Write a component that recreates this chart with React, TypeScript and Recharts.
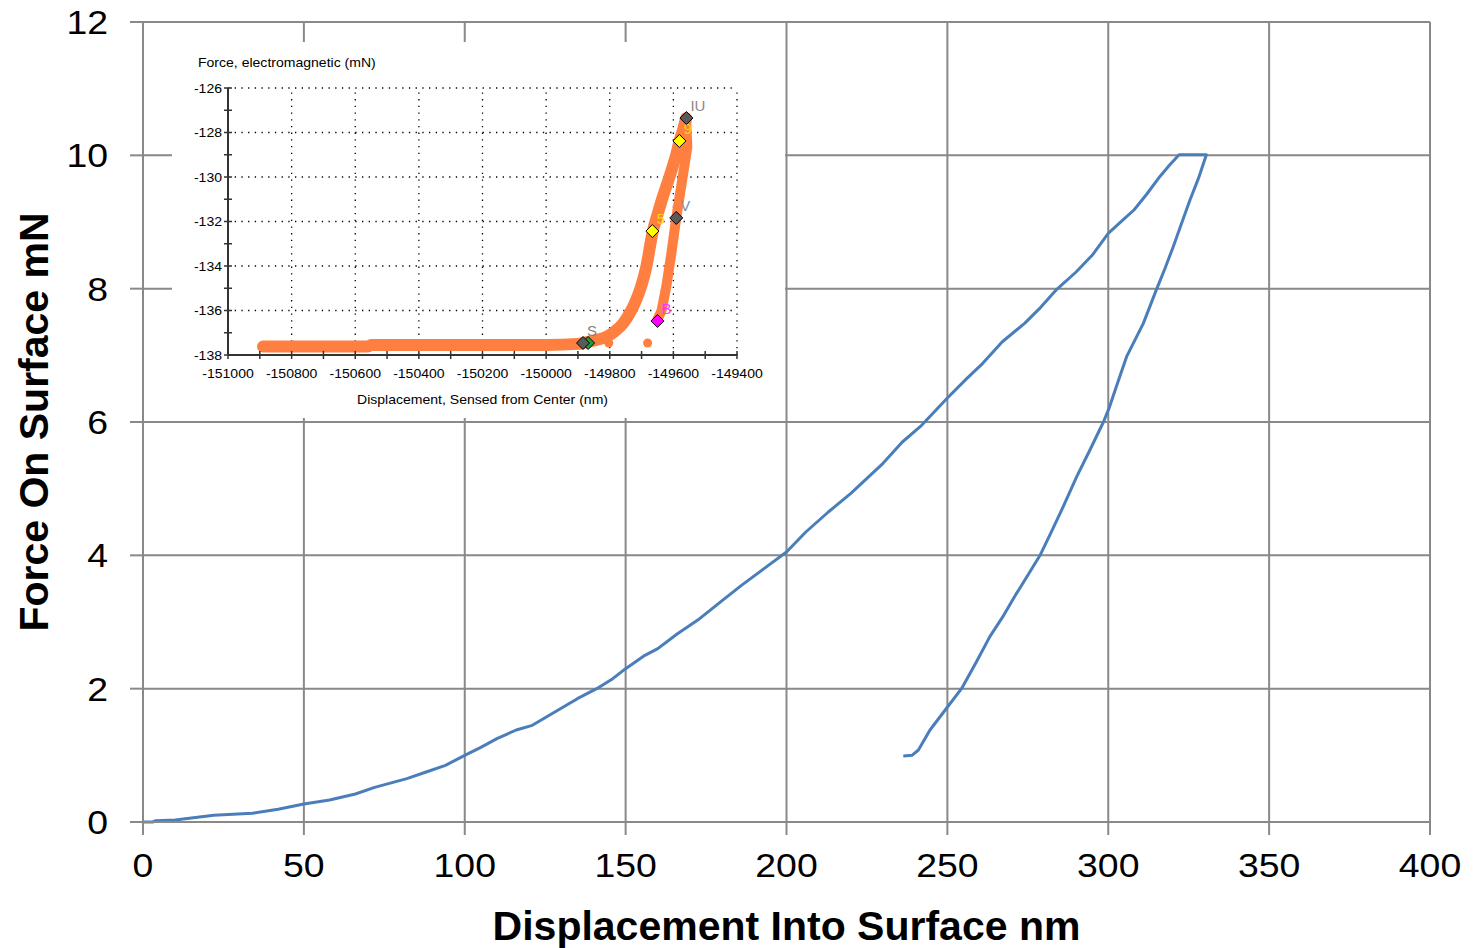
import React from 'react';
import {
  ComposedChart,
  Line,
  Scatter,
  XAxis,
  YAxis,
  CartesianGrid,
  ReferenceLine,
  Label,
} from 'recharts';

// ── Main curve: force vs displacement (loading, hold, unloading) ──
const loadX = [0, 3, 4, 10, 22, 34, 42, 50, 58, 66, 72, 82, 88, 94, 100, 105, 110, 116, 121, 128, 135, 141, 146, 150, 156, 160, 166, 173, 180, 186, 193, 200, 206, 213, 220, 226, 230, 236, 242, 250, 256, 261, 267, 274, 279, 284, 290, 295, 300, 305, 308, 312, 316, 319, 322];
const loadF = [0, 0, 0.02, 0.03, 0.1, 0.13, 0.19, 0.27, 0.33, 0.42, 0.52, 0.65, 0.75, 0.85, 1.0, 1.12, 1.25, 1.38, 1.45, 1.65, 1.85, 2.0, 2.15, 2.3, 2.5, 2.6, 2.82, 3.05, 3.32, 3.55, 3.8, 4.05, 4.35, 4.65, 4.93, 5.2, 5.38, 5.7, 5.95, 6.36, 6.65, 6.88, 7.2, 7.48, 7.72, 7.99, 8.25, 8.5, 8.83, 9.05, 9.18, 9.42, 9.68, 9.85, 10.01];
const holdX = [330.5];
const holdF = [10.01];
const unloadX = [328, 325.4, 322.8, 320.2, 317.6, 315, 310.9, 305.7, 303, 300.2, 298.5, 294.3, 290.2, 286, 282.5, 278.8, 275, 271.5, 267.5, 263.2, 259, 254.4, 249.8, 244.6, 241, 239, 236.3];
const unloadF = [9.65, 9.33, 8.98, 8.63, 8.3, 7.99, 7.48, 6.98, 6.6, 6.2, 6.0, 5.58, 5.18, 4.73, 4.37, 4.0, 3.7, 3.43, 3.1, 2.78, 2.4, 2.0, 1.71, 1.38, 1.08, 1.0, 0.99];

const mainXTicks = [0, 50, 100, 150, 200, 250, 300, 350, 400];
const mainYTicks = [0, 2, 4, 6, 8, 10, 12];

// ── Inset: electromagnetic force vs sensed displacement ──
const insetLoadX = [-150890, -150560, -150550, -150000, -149900, -149884, -149850, -149810, -149785, -149758, -149737, -149717, -149700, -149685, -149665, -149648, -149633, -149617, -149602, -149591, -149581, -149570, -149560];
const insetLoadF = [-137.62, -137.62, -137.55, -137.55, -137.5, -137.46, -137.35, -137.18, -136.95, -136.58, -136.12, -135.53, -134.85, -134.03, -132.46, -131.6, -130.88, -130.2, -129.53, -129.0, -128.41, -127.9, -127.36];
const insetUnloadX = [-149560, -149556, -149572, -149591, -149606, -149622, -149637, -149650];
const insetUnloadF = [-127.36, -128.65, -130.1, -131.84, -133.4, -134.9, -136.0, -136.4];
const insetDotX = [-149803, -149681];
const insetDotF = [-137.46, -137.46];

const markerX = [-149868, -149884, -149666, -149581, -149559, -149591, -149650];
const markerF = [-137.46, -137.46, -132.43, -128.38, -127.35, -131.84, -136.47];
const markerFill = ['#1f9e3a', '#5a5a5a', '#ffff00', '#ffff00', '#5a5a5a', '#5a5a5a', '#ff00ff'];
const markerText = ['', 'S', '5', '9', 'IU', 'V', 'B'];
const markerTextColor = ['#000', '#8a7f7f', '#ffd400', '#ffd400', '#8a8a8a', '#7d8ea8', '#ff33ff'];

const insetXTicks = [-151000, -150900, -150800, -150700, -150600, -150500, -150400, -150300, -150200, -150100, -150000, -149900, -149800, -149700, -149600, -149500, -149400];
const insetYTicks = [-138, -137, -136, -135, -134, -133, -132, -131, -130, -129, -128, -127, -126];
const insetXGrid = [-150800, -150600, -150400, -150200, -150000, -149800, -149600, -149400];
const insetYGrid = [-136, -134, -132, -130, -128, -126];

const zip = (xs: number[], ys: number[]) => xs.map((x, i) => ({ x, f: ys[i] }));

const mainPath = zip([...loadX, ...holdX, ...unloadX], [...loadF, ...holdF, ...unloadF]);
const insetLoad = zip(insetLoadX, insetLoadF);
const insetUnload = zip(insetUnloadX, insetUnloadF);
const insetDots = zip(insetDotX, insetDotF);
const markers = markerX.map((x, i) => ({
  x,
  f: markerF[i],
  fill: markerFill[i],
  text: markerText[i],
  textColor: markerTextColor[i],
}));

const FONT = "'Liberation Sans', Arial, sans-serif";
const GRID = '#898989';
const ORANGE = '#ff7f41';

function StretchText({ x, y, anchor = 'start', size, sx = 1, fill = '#000', weight = 'normal', children }: any) {
  return (
    <text
      transform={`translate(${x} ${y}) scale(${sx} 1)`}
      x={0}
      y={0}
      textAnchor={anchor}
      fontSize={size}
      fontFamily={FONT}
      fontWeight={weight}
      fill={fill}
    >
      {children}
    </text>
  );
}

// ── ticks ──
const MainXTick = ({ x, y, payload }: any) => (
  <StretchText x={x} y={y + 24} anchor="middle" size={34} sx={1.1}>
    {payload.value}
  </StretchText>
);

const MainYTick = ({ x, y, payload }: any) => (
  <StretchText x={x} y={y + 12} anchor="end" size={34} sx={1.1}>
    {payload.value}
  </StretchText>
);

const InsetXTick = ({ x, y, payload }: any) => {
  const major = payload.value % 200 === 0;
  return (
    <g>
      <line x1={x} x2={x} y1={y - 4} y2={y + 4} stroke="#333" strokeWidth={1.5} />
      {major && (
        <StretchText x={x} y={y + 23} anchor="middle" size={12} sx={1.17}>
          {payload.value}
        </StretchText>
      )}
    </g>
  );
};

const InsetYTick = ({ x, y, payload }: any) => {
  const major = payload.value % 2 === 0;
  return (
    <g>
      <line x1={x - 4} x2={x + 4} y1={y} y2={y} stroke="#333" strokeWidth={1.5} />
      {major && (
        <StretchText x={x - 6} y={y + 4.5} anchor="end" size={12} sx={1.17}>
          {payload.value}
        </StretchText>
      )}
    </g>
  );
};

const Diamond = ({ cx, cy, payload }: any) => {
  const s = 6.5;
  return (
    <g>
      <polygon
        points={`${cx},${cy - s} ${cx + s},${cy} ${cx},${cy + s} ${cx - s},${cy}`}
        fill={payload.fill}
        stroke="#000"
        strokeWidth={1}
      />
      {payload.text && (
        <text x={cx + 4} y={cy - 7} fontSize={15} fontFamily={FONT} fill={payload.textColor}>
          {payload.text}
        </text>
      )}
    </g>
  );
};

const Dot = ({ cx, cy }: any) => <circle cx={cx} cy={cy} r={4.5} fill={ORANGE} />;

function Inset() {
  return (
    <div style={{ position: 'absolute', left: 172, top: 42, width: 613, height: 376, background: '#fff' }}>
      <ComposedChart width={613} height={376} margin={{ top: 46, right: 48, bottom: 0, left: 0 }}>
        <XAxis
          type="number"
          dataKey="x"
          domain={[-151000, -149400]}
          ticks={insetXTicks}
          interval={0}
          height={63}
          tickSize={0}
          tickMargin={0}
          tickLine={false}
          axisLine={{ stroke: '#333', strokeWidth: 2 }}
          tick={<InsetXTick />}
        >
          <Label
            content={({ viewBox }: any) => (
              <StretchText
                x={(viewBox?.x ?? 56) + (viewBox?.width ?? 509) / 2}
                y={(viewBox?.y ?? 313) + 49}
                anchor="middle"
                size={12}
                sx={1.17}
              >
                Displacement, Sensed from Center (nm)
              </StretchText>
            )}
          />
        </XAxis>
        <YAxis
          type="number"
          dataKey="f"
          domain={[-138, -126]}
          ticks={insetYTicks}
          interval={0}
          width={56}
          tickSize={0}
          tickMargin={0}
          tickLine={false}
          axisLine={{ stroke: '#333', strokeWidth: 2 }}
          tick={<InsetYTick />}
        >
          <Label
            content={({ viewBox }: any) => (
              <StretchText x={26} y={(viewBox?.y ?? 46) - 21} size={12} sx={1.17}>
                Force, electromagnetic (mN)
              </StretchText>
            )}
          />
        </YAxis>

        {insetXGrid.map((v) => (
          <ReferenceLine key={`gx${v}`} x={v} stroke="#000" strokeWidth={1.3} strokeDasharray="1.3 5.4" />
        ))}
        {insetYGrid.map((v) => (
          <ReferenceLine key={`gy${v}`} y={v} stroke="#000" strokeWidth={1.3} strokeDasharray="1.3 5.4" />
        ))}

        <Line
          data={insetLoad}
          dataKey="f"
          type="monotone"
          stroke={ORANGE}
          strokeWidth={12}
          strokeLinecap="round"
          strokeLinejoin="round"
          dot={false}
          activeDot={false}
          isAnimationActive={false}
        />
        <Line
          data={insetUnload}
          dataKey="f"
          type="linear"
          stroke={ORANGE}
          strokeWidth={10}
          strokeLinecap="round"
          strokeLinejoin="round"
          dot={false}
          activeDot={false}
          isAnimationActive={false}
        />
        <Scatter data={insetDots} dataKey="f" shape={<Dot />} isAnimationActive={false} />
        <Scatter data={markers} dataKey="f" shape={<Diamond />} isAnimationActive={false} />
      </ComposedChart>
    </div>
  );
}

export default function App() {
  return (
    <div style={{ position: 'absolute', left: 0, top: 0, width: 1476, height: 948, background: '#fff' }}>
      <ComposedChart width={1476} height={948} margin={{ top: 22, right: 46, bottom: 0, left: 0 }}>
        <CartesianGrid stroke={GRID} strokeWidth={2} />
        <XAxis
          type="number"
          dataKey="x"
          domain={[0, 400]}
          ticks={mainXTicks}
          interval={0}
          height={126}
          tickSize={13}
          tickMargin={18}
          tickLine={{ stroke: GRID, strokeWidth: 2 }}
          axisLine={{ stroke: GRID, strokeWidth: 2 }}
          tick={<MainXTick />}
        >
          <Label
            content={({ viewBox }: any) => (
              <text
                x={(viewBox?.x ?? 143) + (viewBox?.width ?? 1287) / 2}
                y={940}
                textAnchor="middle"
                fontSize={41}
                fontWeight="bold"
                fontFamily={FONT}
                fill="#000"
              >
                Displacement Into Surface nm
              </text>
            )}
          />
        </XAxis>
        <YAxis
          type="number"
          dataKey="f"
          domain={[0, 12]}
          ticks={mainYTicks}
          interval={0}
          width={143}
          tickSize={13}
          tickMargin={22}
          tickLine={{ stroke: GRID, strokeWidth: 2 }}
          axisLine={{ stroke: GRID, strokeWidth: 2 }}
          tick={<MainYTick />}
        >
          <Label
            content={({ viewBox }: any) => (
              <text
                transform={`translate(48 ${(viewBox?.y ?? 22) + (viewBox?.height ?? 800) / 2}) rotate(-90)`}
                textAnchor="middle"
                fontSize={41}
                fontWeight="bold"
                fontFamily={FONT}
                fill="#000"
              >
                Force On Surface mN
              </text>
            )}
          />
        </YAxis>
        <Line
          data={mainPath}
          dataKey="f"
          type="linear"
          stroke="#4a7ebb"
          strokeWidth={3}
          strokeLinejoin="round"
          dot={false}
          activeDot={false}
          isAnimationActive={false}
        />
      </ComposedChart>
      <Inset />
    </div>
  );
}
